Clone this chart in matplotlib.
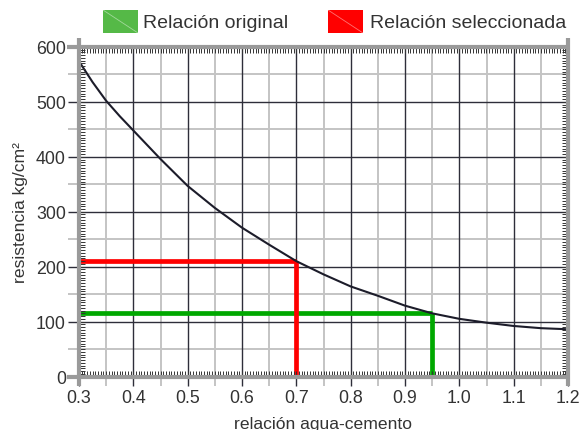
import numpy as np
import matplotlib
matplotlib.use("Agg")
import matplotlib.pyplot as plt
from matplotlib.patches import Rectangle

plt.rcParams['font.family'] = ['Liberation Sans', 'DejaVu Sans']

# Strength curve: water-cement ratio vs. compressive strength (kg/cm²)
wc_ratio = [0.30, 0.325, 0.35, 0.375, 0.40, 0.45, 0.50, 0.55, 0.60, 0.65,
            0.70, 0.75, 0.80, 0.85, 0.90, 0.95, 1.00, 1.05, 1.10, 1.15, 1.20]
strength = [574, 536, 502, 474, 448, 396, 347, 307, 271, 240,
            210, 186, 164, 147, 129, 115, 105, 98, 92, 88, 86]

# Original and selected design points
original_ratio = 0.95
original_strength = 115
selected_ratio = 0.70
selected_strength = 210

x_ticks = [0.3, 0.4, 0.5, 0.6, 0.7, 0.8, 0.9, 1.0, 1.1, 1.2]
x_tick_labels = ["0.3", "0.4", "0.5", "0.6", "0.7", "0.8", "0.9", "1.0", "1.1", "1.2"]
x_half_ticks = [0.35, 0.45, 0.55, 0.65, 0.75, 0.85, 0.95, 1.05, 1.15]
y_ticks = [0, 100, 200, 300, 400, 500, 600]
y_tick_labels = ["0", "100", "200", "300", "400", "500", "600"]
y_half_ticks = [50, 150, 250, 350, 450, 550]

legend_labels = ["Relación original", "Relación seleccionada"]
legend_colors = ["#55b947", "#ff0000"]
x_label = "relación agua-cemento"
y_label = "resistencia kg/cm²"

W, H = 579, 431
fig = plt.figure(figsize=(W / 100, H / 100), dpi=100)

def fx(px):
    return px / W

def fy(py):
    return 1 - py / H

L, R, B, T = 79, 568, 377.5, 48
rect = [fx(L), fy(B), (R - L) / W, (B - T) / H]

TEXT = "#333333"
DARK = "#2e2e3a"
LIGHT = "#c4c4c4"

ax = fig.add_axes(rect)
x_min, x_max = x_ticks[0], x_ticks[-1]
y_min, y_max = y_ticks[0], y_ticks[-1]
ax.set_xlim(x_min, x_max)
ax.set_ylim(y_min, y_max)

ax.set_xticks(x_ticks)
ax.set_xticklabels(x_tick_labels)
ax.set_xticks(x_half_ticks, minor=True)
ax.set_yticks(y_ticks)
ax.set_yticklabels(y_tick_labels)
ax.set_yticks(y_half_ticks, minor=True)

ax.tick_params(axis='x', which='major', direction='out', length=6.8, width=1.0,
               color=DARK, labelsize=12.8, labelcolor=TEXT, pad=2.5)
ax.tick_params(axis='x', which='minor', direction='out', length=6.8, width=1.4,
               color=LIGHT)
ax.tick_params(axis='y', which='major', direction='out', length=7.9, width=1.0,
               color=DARK, labelsize=12.8, labelcolor=TEXT, pad=1.5)
ax.tick_params(axis='y', which='minor', direction='out', length=7.9, width=1.4,
               color=LIGHT)
ax.grid(False)
for s in ax.spines.values():
    s.set_visible(False)

# Grid: light half-step lines, dark full-step lines on top
for v in x_half_ticks:
    ax.axvline(v, color=LIGHT, lw=1.4, zorder=1)
for v in y_half_ticks:
    ax.axhline(v, color=LIGHT, lw=1.4, zorder=1)
for v in x_ticks[1:-1]:
    ax.axvline(v, color=DARK, lw=1.0, zorder=1.2)
for v in y_ticks[1:-1]:
    ax.axhline(v, color=DARK, lw=1.0, zorder=1.2)

# Design point guides
ax.hlines(original_strength, x_min, original_ratio, color="#00a800", lw=3.4, zorder=3)
ax.vlines(original_ratio, y_min, original_strength, color="#00a800", lw=3.4, zorder=3)
ax.hlines(selected_strength, x_min, selected_ratio, color="#ff0000", lw=3.4, zorder=3)
ax.vlines(selected_ratio, y_min, selected_strength, color="#ff0000", lw=3.4, zorder=3)

# Strength curve
ax.plot(wc_ratio, strength, color="#1c1c2a", lw=1.5, zorder=4)

# Overlay with fine inner ticks and the heavy gray frame
ax2 = fig.add_axes(rect)
ax2.set_xlim(x_min, x_max)
ax2.set_ylim(y_min, y_max)
ax2.patch.set_visible(False)
for s in ax2.spines.values():
    s.set_visible(False)
ax2.set_xticks(np.arange(0.3, 1.2001, 0.005))
ax2.set_yticks(np.arange(0, 601, 5))
ax2.tick_params(direction='in', length=4.3, width=0.7, color="#333333",
                top=True, right=True, bottom=True, left=True,
                labelbottom=False, labelleft=False)

dx = 12 / (R - L)
dy = 9.5 / (B - T)
frame = dict(transform=ax2.transAxes, clip_on=False, color="#9a9a9a", lw=3,
             solid_capstyle='butt', zorder=5)
ax2.plot([0, 0], [-dy, 1 + dy], **frame)
ax2.plot([1, 1], [-dy, 1 + dy], **frame)
ax2.plot([-dx, 1], [1, 1], **frame)
ax2.plot([-dx, 1], [0, 0], **frame)

# Legend
legend_boxes = [(103, 143), (328, 370)]
for (px0, tx), label, col in zip(legend_boxes, legend_labels, legend_colors):
    fig.patches.append(Rectangle((fx(px0), fy(34)), 35 / W, 23 / H,
                                 transform=fig.transFigure, facecolor=col,
                                 edgecolor='none'))
    fig.lines.append(plt.Line2D([fx(px0), fx(px0 + 35)], [fy(11), fy(34)],
                                transform=fig.transFigure, color='white',
                                alpha=0.45, lw=0.6))
    fig.text(fx(tx), fy(27.5), label, ha='left', va='baseline',
             fontsize=14, color=TEXT)

# Axis titles
fig.text(fx((L + R) / 2), fy(429.5), x_label, ha='center', va='baseline',
         fontsize=12.6, color=TEXT)
fig.text(fx(21), fy((B + T) / 2), y_label, rotation=90, ha='center',
         va='center', fontsize=12.6, color=TEXT)

fig.savefig("out.png", dpi=100)
